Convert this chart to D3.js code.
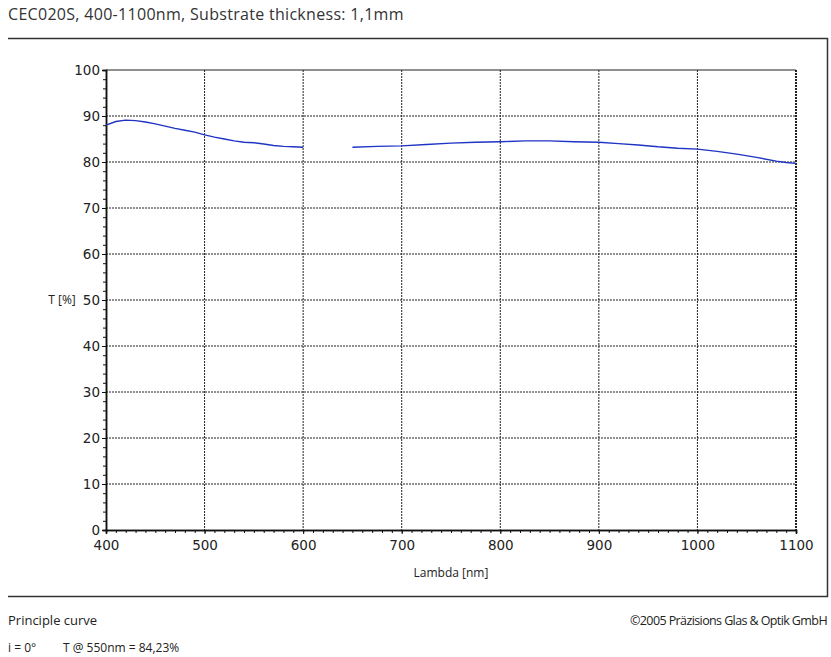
<!DOCTYPE html>
<html>
<head>
<meta charset="utf-8">
<script src="https://cdn.jsdelivr.net/npm/d3@7"></script>
<style>
  body { margin: 0; background: #fff; }
  text { fill: #222; }
</style>
</head>
<body>
<div id="chart"></div>
<script>
// wavelength (nm) and transmission (%), null = gap in the measurement
var lambda = [400, 410, 420, 430, 440, 450, 460, 470, 480, 490, 500, 510, 520, 530, 540, 550, 560, 570, 580, 590, 600,
              625,
              650, 675, 700, 725, 750, 775, 800, 825, 850, 875, 900, 920, 940, 960, 980, 1000, 1020, 1040, 1060, 1080, 1090, 1100];
var transmission = [88.0, 88.8, 89.1, 89.0, 88.7, 88.3, 87.8, 87.3, 86.9, 86.5, 85.9, 85.4, 85.0, 84.6, 84.3, 84.2, 83.9, 83.6, 83.4, 83.3, 83.2,
              null,
              83.2, 83.4, 83.5, 83.8, 84.1, 84.3, 84.4, 84.6, 84.6, 84.4, 84.3, 84.0, 83.7, 83.3, 83.0, 82.8, 82.3, 81.7, 81.0, 80.2, 79.9, 79.7];
var xTicks = [400, 500, 600, 700, 800, 900, 1000, 1100];
var yTicks = [0, 10, 20, 30, 40, 50, 60, 70, 80, 90, 100];

var W = 831, H = 657;
var plot = {left: 106, right: 796, top: 70, bottom: 530};

var svg = d3.select("#chart").append("svg").attr("width", W).attr("height", H)
    .style("font-family", "'DejaVu Sans', sans-serif");

var x = d3.scaleLinear().domain([400, 1100]).range([plot.left, plot.right]);
var y = d3.scaleLinear().domain([0, 100]).range([plot.bottom, plot.top]);

// title + outer frame
svg.append("text").attr("x", 8).attr("y", 20)
    .style("font-family", "'Open Sans', sans-serif").style("font-size", "16px")
    .style("letter-spacing", "0.3px").style("fill", "#333")
    .text("CEC020S, 400-1100nm, Substrate thickness: 1,1mm");
svg.append("path")
    .attr("d", "M8,38.5H827.5V596.5H8")
    .attr("fill", "none").attr("stroke", "#333").attr("stroke-width", 1.5);

// grid
var grid = svg.append("g");
grid.selectAll("line.v").data(xTicks.slice(1)).enter().append("line")
    .attr("x1", function(d) { return x(d); }).attr("x2", function(d) { return x(d); })
    .attr("y1", plot.top).attr("y2", plot.bottom)
    .attr("stroke", "#222").attr("stroke-width", function(d) { return d == 1100 ? 2 : 1; })
    .attr("stroke-dasharray", "2,1");
grid.selectAll("line.h").data(yTicks.slice(1, -1)).enter().append("line")
    .attr("x1", plot.left).attr("x2", plot.right)
    .attr("y1", function(d) { return y(d); }).attr("y2", function(d) { return y(d); })
    .attr("stroke", "#222").attr("stroke-width", 1)
    .attr("stroke-dasharray", "2,1");
// top border solid
svg.append("line").attr("x1", plot.left).attr("x2", plot.right)
    .attr("y1", y(100)).attr("y2", y(100)).attr("stroke", "#222").attr("stroke-width", 1.2);

// axes with minor ticks
var xMinor = d3.axisBottom(x).ticks(70).tickSize(3).tickFormat("");
var xMajor = d3.axisBottom(x).tickValues(xTicks).tickSize(4).tickPadding(6).tickFormat(d3.format("d"));
var yMinor = d3.axisLeft(y).ticks(50).tickSize(3).tickFormat("");
var yMajor = d3.axisLeft(y).tickValues(yTicks).tickSize(4).tickPadding(2).tickFormat(d3.format("d"));

function styleAxis(g) {
    g.selectAll("path").attr("stroke", "#111").attr("stroke-width", 1.5);
    g.selectAll("line").attr("stroke", "#111");
    g.selectAll("text").style("font-size", "13.5px").style("font-family", "'DejaVu Sans', sans-serif").attr("fill", "#333");
}
svg.append("g").attr("transform", "translate(0," + plot.bottom + ")").call(xMinor).call(styleAxis);
svg.append("g").attr("transform", "translate(0," + plot.bottom + ")").call(xMajor).call(styleAxis);
svg.append("g").attr("transform", "translate(" + plot.left + ",0)").call(yMinor).call(styleAxis);
svg.append("g").attr("transform", "translate(" + plot.left + ",0)").call(yMajor).call(styleAxis);

// axis titles
svg.append("text").attr("x", 62).attr("y", 304).attr("text-anchor", "middle")
    .style("font-family", "'Open Sans', sans-serif").style("font-size", "12px").text("T [%]");
svg.append("text").attr("x", 451).attr("y", 577).attr("text-anchor", "middle")
    .style("font-family", "'Open Sans', sans-serif").style("font-size", "12px").text("Lambda [nm]");

// curve
var pts = lambda.map(function(d, i) { return {l: d, t: transmission[i]}; });
var line = d3.line()
    .defined(function(d) { return d.t != null; })
    .x(function(d) { return x(d.l); })
    .y(function(d) { return y(d.t); });
svg.append("path").datum(pts).attr("d", line)
    .attr("fill", "none").attr("stroke", "#1f33c4").attr("stroke-width", 1.4);

// footer
var foot = svg.append("g").style("font-family", "'Open Sans', sans-serif").style("font-size", "13px");
foot.append("text").attr("x", 8).attr("y", 625).text("Principle curve");
foot.append("text").attr("x", 827).attr("y", 625).attr("text-anchor", "end")
    .style("font-size", "12.5px").style("letter-spacing", "-0.6px")
    .text("\u00a92005 Pr\u00e4zisions Glas & Optik GmbH");
foot.append("text").attr("x", 8).attr("y", 652).style("font-size", "12px").text("i = 0\u00b0");
foot.append("text").attr("x", 63).attr("y", 652).style("font-size", "12px").text("T @ 550nm = 84,23%");
</script>
</body>
</html>
